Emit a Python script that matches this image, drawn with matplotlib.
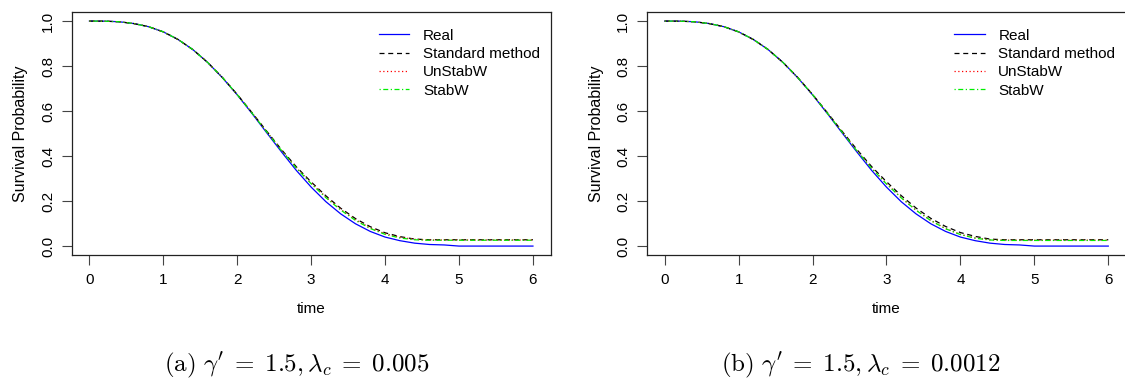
import matplotlib
matplotlib.use("Agg")
import matplotlib.pyplot as plt

plt.rcParams['font.family'] = ['Liberation Sans', 'DejaVu Sans']
plt.rcParams['mathtext.fontset'] = 'cm'

# temps (pas de 0.2)
time = [0.0, 0.2, 0.4, 0.6, 0.8, 1.0, 1.2, 1.4, 1.6, 1.8, 2.0, 2.2, 2.4, 2.6, 2.8,
        3.0, 3.2, 3.4, 3.6, 3.8, 4.0, 4.2, 4.4, 4.6, 4.8, 5.0, 5.2, 5.4, 5.6, 5.8, 6.0]

# panneau (a)
real_a = [1.000, 0.9996, 0.997, 0.989, 0.975, 0.952, 0.918, 0.873, 0.816, 0.748, 0.672,
          0.589, 0.503, 0.418, 0.336, 0.262, 0.197, 0.143, 0.099, 0.065, 0.040, 0.024,
          0.013, 0.007, 0.005, 0.000, 0.000, 0.000, 0.000, 0.000, 0.000]
std_a = [1.000, 0.9996, 0.997, 0.989, 0.975, 0.952, 0.918, 0.873, 0.816, 0.749, 0.674,
         0.593, 0.510, 0.428, 0.352, 0.285, 0.223, 0.168, 0.122, 0.086, 0.059, 0.042,
         0.031, 0.028, 0.028, 0.028, 0.028, 0.028, 0.028, 0.028, 0.028]
unstab_a = [1.000, 0.9996, 0.997, 0.989, 0.975, 0.952, 0.918, 0.873, 0.816, 0.749, 0.673,
            0.592, 0.508, 0.425, 0.348, 0.280, 0.218, 0.163, 0.117, 0.081, 0.055, 0.039,
            0.030, 0.027, 0.027, 0.027, 0.027, 0.027, 0.027, 0.027, 0.027]
stab_a = [1.000, 0.9996, 0.997, 0.989, 0.975, 0.952, 0.918, 0.873, 0.816, 0.749, 0.673,
          0.591, 0.507, 0.424, 0.346, 0.277, 0.215, 0.160, 0.114, 0.078, 0.052, 0.036,
          0.028, 0.026, 0.026, 0.026, 0.026, 0.026, 0.026, 0.026, 0.026]

# panneau (b)
real_b = real_a
std_b = [1.000, 0.9996, 0.997, 0.989, 0.975, 0.952, 0.918, 0.873, 0.816, 0.749, 0.674,
         0.593, 0.510, 0.429, 0.353, 0.286, 0.224, 0.169, 0.123, 0.087, 0.060, 0.043,
         0.031, 0.028, 0.028, 0.028, 0.028, 0.028, 0.028, 0.028, 0.028]
unstab_b = [1.000, 0.9996, 0.997, 0.989, 0.975, 0.952, 0.918, 0.873, 0.816, 0.749, 0.673,
            0.591, 0.507, 0.424, 0.346, 0.278, 0.215, 0.160, 0.114, 0.078, 0.052, 0.036,
            0.028, 0.026, 0.026, 0.026, 0.026, 0.026, 0.026, 0.026, 0.026]
stab_b = [1.000, 0.9996, 0.997, 0.989, 0.975, 0.952, 0.918, 0.873, 0.816, 0.749, 0.673,
          0.591, 0.506, 0.423, 0.345, 0.276, 0.214, 0.159, 0.113, 0.077, 0.051, 0.035,
          0.027, 0.025, 0.025, 0.025, 0.025, 0.025, 0.025, 0.025, 0.025]

labels = ["Real", "Standard method", "UnStabW", "StabW"]
colors = ["blue", "black", "red", "#00ee00"]
styles = ["-", (0, (4, 3)), (0, (1, 2)), (0, (1, 2, 4, 2))]
captions = [r"$\mathrm{(a)}\ \gamma'\;=\;1.5,\lambda_c\;=\;0.005$",
            r"$\mathrm{(b)}\ \gamma'\;=\;1.5,\lambda_c\;=\;0.0012$"]
panels = [(real_a, std_a, unstab_a, stab_a), (real_b, std_b, unstab_b, stab_b)]

fig = plt.figure(figsize=(11.25, 3.83), dpi=100)
lefts = [0.0637, 0.5751]
centres = [0.264, 0.765]

for k in range(2):
    ax = fig.add_axes([lefts[k], 0.334, 0.4258, 0.6345])
    for serie, lab, col, ls in zip(panels[k], labels, colors, styles):
        ax.plot(time, serie, color=col, linestyle=ls, linewidth=0.9, label=lab)
    ax.set_xlim(-0.24, 6.24)
    ax.set_ylim(-0.04, 1.04)
    ax.set_xticks([0, 1, 2, 3, 4, 5, 6])
    ax.set_yticks([0.0, 0.2, 0.4, 0.6, 0.8, 1.0])
    ax.set_yticklabels(["0.0", "0.2", "0.4", "0.6", "0.8", "1.0"], rotation=90, va='center')
    ax.tick_params(labelsize=11, length=7, width=0.8, color='#444444')
    ax.tick_params(axis='x', pad=6)
    ax.tick_params(axis='y', pad=5)
    for s in ax.spines.values():
        s.set_linewidth(0.9)
        s.set_color('#222222')
    ax.set_xlabel("time", fontsize=11, labelpad=11)
    ax.set_ylabel("Survival Probability", fontsize=11.5, labelpad=9)
    ax.legend(loc='upper right', bbox_to_anchor=(1.0, 0.975), frameon=False, fontsize=11,
              handlelength=2.0, handletextpad=0.9, labelspacing=0.28, borderaxespad=0.3)
    fig.text(centres[k], 0.047, captions[k], fontsize=18, ha='center', va='center')

fig.savefig("out.png", dpi=100)
